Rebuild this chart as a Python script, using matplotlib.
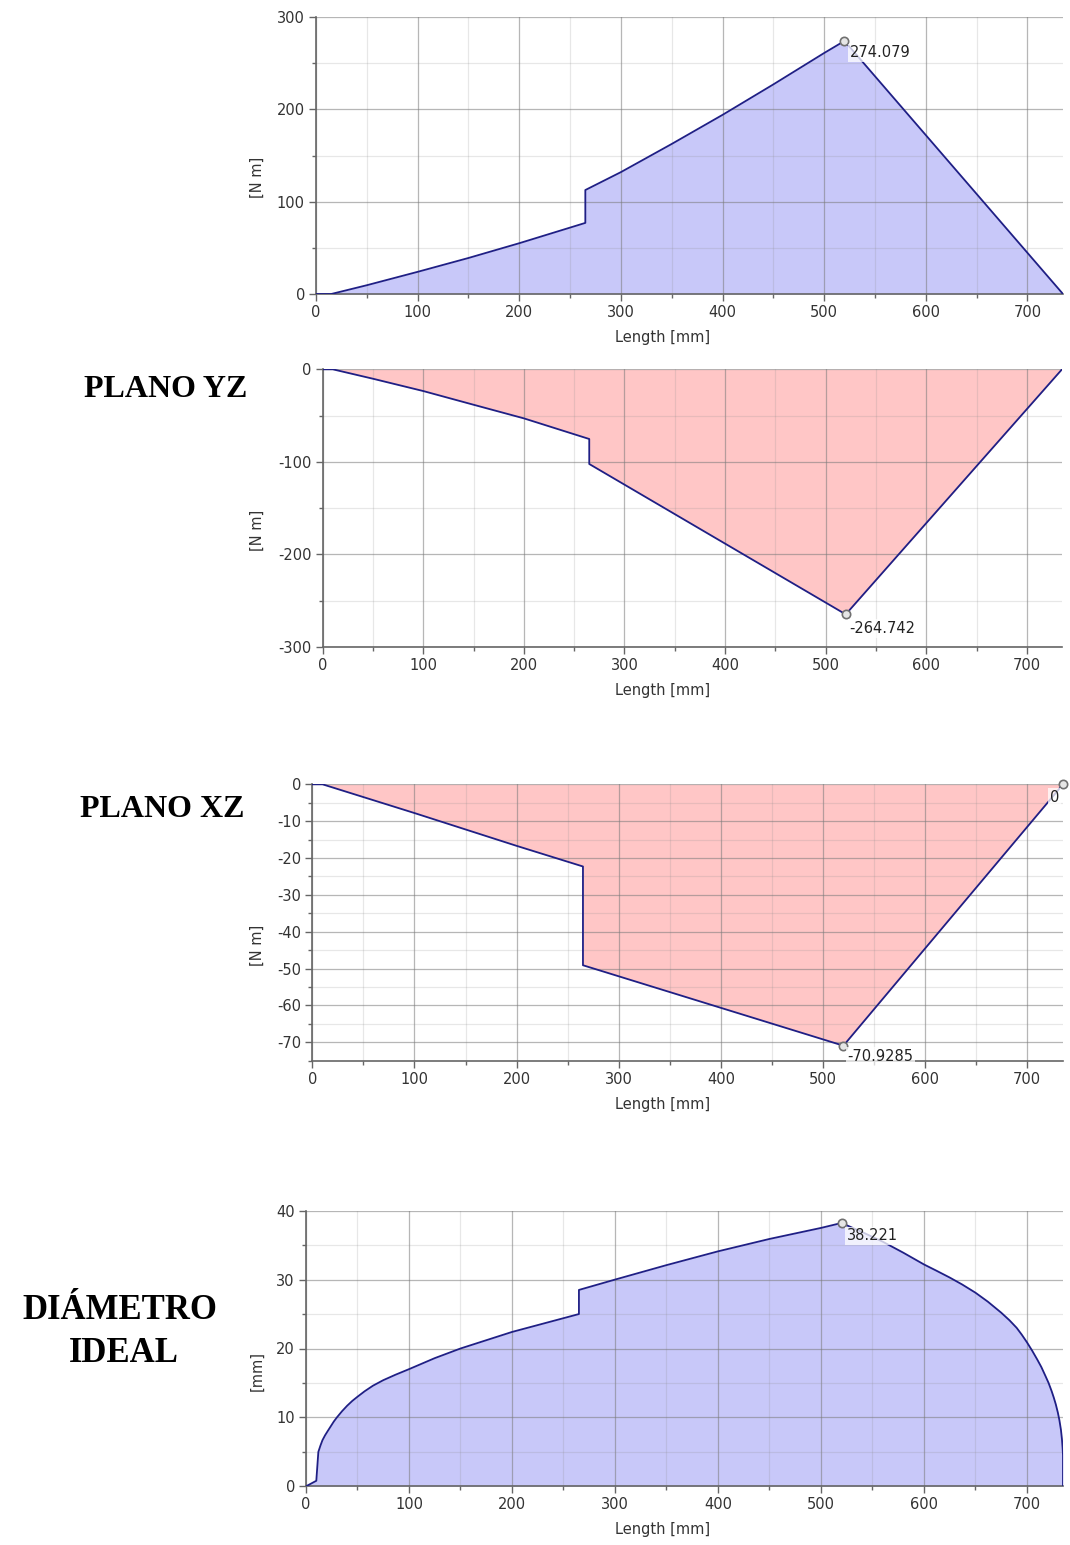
import numpy as np
import matplotlib
matplotlib.use("Agg")
import matplotlib.pyplot as plt
from matplotlib.ticker import MultipleLocator

plt.rcParams["font.family"] = ["DejaVu Sans"]
plt.rcParams["axes.unicode_minus"] = False

# ---------------- data ----------------
# Resultant bending moment [N m]
x_res = [0, 15, 50, 100, 150, 200, 265, 265, 300, 350, 400, 450, 500, 520, 735]
y_res = [0, 0, 9.5, 24, 39, 55, 77, 112.6, 132, 162.5, 194, 227, 261, 274.079, 0]

# Plane YZ bending moment [N m]
x_yz = [0, 10, 50, 100, 150, 200, 265, 265, 520, 735]
y_yz = [0, 0, -10.2, -23.5, -38.3, -53, -75.3, -102.3, -264.742, 0]

# Plane XZ bending moment [N m]
x_xz = [0, 10, 100, 200, 265, 265, 520, 735]
y_xz = [0, 0, -7.8, -16.7, -22.3, -49.1, -70.9285, 0]

# Ideal diameter [mm]
x_d = [0, 10, 12, 14, 16, 18.5, 21, 24, 27, 30, 35, 40, 45, 50, 57, 65, 75,
       87, 100, 125, 150, 175, 200, 230, 265, 265, 300, 350, 400, 450, 500,
       520, 540, 560, 580, 600, 612, 625, 637, 650, 662, 675, 683, 690, 695,
       700, 705, 710, 714, 718, 721, 724, 726, 728, 730, 731.5, 733, 734,
       734.6, 735, 735]
y_d = [0, 0.8, 5.0, 5.9, 6.7, 7.4, 8.0, 8.7, 9.4, 10.0, 10.9, 11.7, 12.4,
       13.0, 13.8, 14.6, 15.4, 16.2, 17.0, 18.6, 20.0, 21.2, 22.4, 23.6, 25.0,
       28.5, 30.0, 32.1, 34.1, 35.9, 37.5, 38.221, 36.9, 35.5, 33.9, 32.2,
       31.3, 30.3, 29.3, 28.1, 26.8, 25.2, 24.1, 23.0, 22.0, 20.9, 19.7, 18.4,
       17.3, 16.0, 15.0, 13.8, 12.9, 11.9, 10.7, 9.6, 8.2, 6.8, 5.6, 4.5, 0]

peak_res = (520, 274.079)
peak_yz = (520, -264.742)
peak_xz = (520, -70.9285)
end_xz = (735, 0)
peak_d = (520, 38.221)

x_major = [0, 100, 200, 300, 400, 500, 600, 700]

# ---------------- styling ----------------
BLUE_FILL = "#c8c8f9"
PINK_FILL = "#ffc6c6"
LINE = "#1f1f85"
AX_COL = "#666666"
TXT_COL = "#333333"
W, H = 1070, 1545

fig = plt.figure(figsize=(W / 100, H / 100), dpi=100)


def make_ax(left, top, right, bottom):
    return fig.add_axes([left / W, 1 - bottom / H, (right - left) / W, (bottom - top) / H])


def style(ax, ylim, ymaj, ymin, ylabel, label_x_px, ylabel_right_px, ylabel_frac,
          left_px, right_px):
    ax.set_xlim(0, 735)
    ax.set_ylim(*ylim)
    ax.set_xticks(x_major)
    ax.xaxis.set_minor_locator(MultipleLocator(50))
    ax.yaxis.set_major_locator(MultipleLocator(ymaj))
    ax.yaxis.set_minor_locator(MultipleLocator(ymin))
    for s in ("top", "right"):
        ax.spines[s].set_visible(False)
    for s in ("left", "bottom"):
        ax.spines[s].set_color(AX_COL)
        ax.spines[s].set_linewidth(1.2)
    ax.grid(which="major", color="#7a7a7a", alpha=0.55, lw=0.9)
    ax.grid(which="minor", color="#8a8a8a", alpha=0.2, lw=0.9)
    ax.tick_params(which="major", length=5, width=1, color=AX_COL,
                   labelsize=10.5, labelcolor=TXT_COL, pad=3)
    ax.tick_params(which="minor", length=3, width=1, color=AX_COL)
    ax.set_xlabel("Length [mm]", fontsize=10.5, color=TXT_COL)
    ax.set_ylabel(ylabel, fontsize=10.5, color=TXT_COL)
    width = right_px - left_px
    ax.xaxis.set_label_coords((label_x_px - left_px) / width, -0.13)
    ax.yaxis.set_label_coords((ylabel_right_px - left_px) / width, ylabel_frac)


def mark(ax, pt, text, dx, dy, ha="left"):
    ax.plot([pt[0]], [pt[1]], marker="o", ms=6, mfc="#e6e6e6", mec="#707070",
            mew=1.2, zorder=6, clip_on=False)
    ax.annotate(text, xy=pt, xytext=(dx, dy), textcoords="offset pixels",
                ha=ha, va="center", fontsize=10.5, color="#222222", zorder=7,
                bbox=dict(boxstyle="square,pad=0.12", fc="white", ec="none", alpha=0.75),
                annotation_clip=False)


# ---- Plot 1: resultant moment ----
ax1 = make_ax(316, 17, 1063, 294)
ax1.fill_between(x_res, y_res, 0, color=BLUE_FILL, lw=0, zorder=1)
ax1.plot(x_res, y_res, color=LINE, lw=1.3, zorder=3)
style(ax1, (0, 300), 100, 50, "[N m]", 662.5, 265, 0.422, 316, 1063)
mark(ax1, peak_res, "274.079", 5, -12)

# ---- Plot 2: plane YZ ----
ax2 = make_ax(322.7, 369.3, 1062, 647)
ax2.fill_between(x_yz, y_yz, 0, color=PINK_FILL, lw=0, zorder=1)
ax2.plot(x_yz, y_yz, color=LINE, lw=1.3, zorder=3)
style(ax2, (-300, 0), 100, 50, "[N m]", 662.5, 265, 0.421, 322.7, 1062)
mark(ax2, peak_yz, "-264.742", 4, -14)

# ---- Plot 3: plane XZ ----
ax3 = make_ax(312.3, 784.3, 1063, 1060.7)
ax3.fill_between(x_xz, y_xz, 0, color=PINK_FILL, lw=0, zorder=1)
ax3.plot(x_xz, y_xz, color=LINE, lw=1.3, zorder=3)
style(ax3, (-75, 0), 10, 5, "[N m]", 662.5, 265, 0.419, 312.3, 1063)
mark(ax3, peak_xz, "-70.9285", 4, -11)
mark(ax3, end_xz, "0", -4, -13, ha="right")

# ---- Plot 4: ideal diameter ----
ax4 = make_ax(306, 1210.7, 1063, 1486.3)
ax4.fill_between(x_d, y_d, 0, color=BLUE_FILL, lw=0, zorder=1)
ax4.plot(x_d, y_d, color=LINE, lw=1.3, zorder=3)
style(ax4, (0, 40), 10, 5, "[mm]", 662.5, 265, 0.418, 306, 1063)
mark(ax4, peak_d, "38.221", 5, -13)

# ---- side labels ----
serif = dict(family=["Liberation Serif", "DejaVu Serif"], weight="bold",
             color="black", ha="center", va="baseline")
fig.text(166 / W, 1 - 396.7 / H, "PLANO YZ", fontsize=23, **serif)
fig.text(162 / W, 1 - 817 / H, "PLANO XZ", fontsize=23, **serif)
fig.text(120 / W, 1 - 1319 / H, "DIÁMETRO", fontsize=25, **serif)
fig.text(124 / W, 1 - 1362.5 / H, "IDEAL", fontsize=25, **serif)

fig.savefig("out.png", dpi=100, facecolor="white")
